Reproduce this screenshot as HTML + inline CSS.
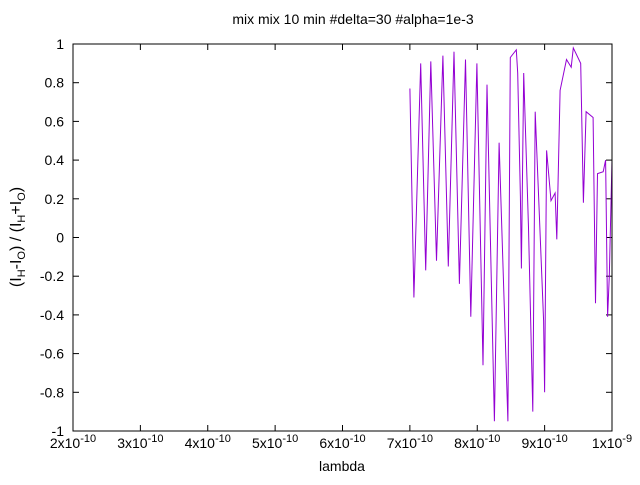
<!DOCTYPE html>
<html><head><meta charset="utf-8"><style>
body{margin:0;background:#fff}
svg text{font-family:"Liberation Sans",sans-serif;font-size:14px;fill:#000}
</style></head><body>
<svg id="chart" width="640" height="480" xmlns="http://www.w3.org/2000/svg">
<text x="353" y="24" text-anchor="middle">mix mix 10 min #delta=30 #alpha=1e-3</text>
<text x="342" y="471" text-anchor="middle">lambda</text>
<text transform="translate(21,237) rotate(-90)" text-anchor="middle" style="font-size:16px">(I<tspan font-size="11" dy="4">H</tspan><tspan dy="-4">-I</tspan><tspan font-size="11" dy="4">O</tspan><tspan dy="-4">) / (I</tspan><tspan font-size="11" dy="4">H</tspan><tspan dy="-4">+I</tspan><tspan font-size="11" dy="4">O</tspan><tspan dy="-4">)</tspan></text>
<g id="axes"></g>
<g id="series"></g>
<rect x="73" y="44" width="539" height="387" fill="none" stroke="#000" stroke-width="1"/>
</svg>
<script>
const xTicks=[2,3,4,5,6,7,8,9,10];
const xTickLabels=["2x10","3x10","4x10","5x10","6x10","7x10","8x10","9x10","1x10"];
const xTickExp=["-10","-10","-10","-10","-10","-10","-10","-10","-9"];
const yTicks=[-1,-0.8,-0.6,-0.4,-0.2,0,0.2,0.4,0.6,0.8,1];
const yTickLabels=["-1","-0.8","-0.6","-0.4","-0.2","0","0.2","0.4","0.6","0.8","1"];
const lambdaE10=[7.0,7.06,7.16,7.235,7.31,7.395,7.49,7.57,7.655,7.735,7.825,7.905,7.995,8.085,8.145,8.255,8.325,8.455,8.49,8.58,8.6,8.64,8.655,8.69,8.76,8.825,8.86,8.985,9.0,9.03,9.095,9.155,9.18,9.23,9.325,9.395,9.425,9.535,9.575,9.615,9.72,9.755,9.785,9.87,9.905,9.935,9.96,10.0];
const ratio=[0.77,-0.31,0.90,-0.17,0.91,-0.12,0.94,-0.15,0.96,-0.24,0.92,-0.41,0.90,-0.66,0.79,-0.95,0.49,-0.95,0.93,0.97,0.85,0.21,-0.16,0.85,0.05,-0.90,0.65,-0.43,-0.80,0.45,0.19,0.23,-0.01,0.76,0.92,0.88,0.98,0.90,0.18,0.65,0.62,-0.34,0.33,0.34,0.40,-0.41,-0.20,0.40];
const X0=73,X1=612,Y0=431,Y1=44;
function sx(v){return X0+(v-2)/8*(X1-X0);}
function sy(v){return Y0-(v+1)/2*(Y0-Y1);}
const NS="http://www.w3.org/2000/svg";
const axes=document.getElementById('axes');
xTicks.forEach((t,i)=>{
  const x=sx(t);
  for(const [a,b] of [[Y0,Y0-6],[Y1,Y1+6]]){
    const l=document.createElementNS(NS,'line');
    l.setAttribute('x1',x);l.setAttribute('x2',x);l.setAttribute('y1',a);l.setAttribute('y2',b);l.setAttribute('stroke','#000');
    
    
    axes.appendChild(l);
  }
  const tx=document.createElementNS(NS,'text');
  tx.setAttribute('x',x);tx.setAttribute('y',Y0+17);tx.setAttribute('text-anchor','middle');
  tx.innerHTML=xTickLabels[i]+'<tspan font-size="11" dy="-6">'+xTickExp[i]+'</tspan>';
  
  
  axes.appendChild(tx);
});
yTicks.forEach((t,i)=>{
  const y=sy(t);
  for(const [a,b] of [[X0,X0+6],[X1,X1-6]]){
    const l=document.createElementNS(NS,'line');
    l.setAttribute('x1',a);l.setAttribute('x2',b);l.setAttribute('y1',y);l.setAttribute('y2',y);l.setAttribute('stroke','#000');
    
    
    axes.appendChild(l);
  }
  const tx=document.createElementNS(NS,'text');
  tx.setAttribute('x',X0-9);tx.setAttribute('y',y+5);tx.setAttribute('text-anchor','end');
  tx.textContent=yTickLabels[i];
  
  
  axes.appendChild(tx);
});
const pts=lambdaE10.map((l,i)=>sx(l).toFixed(1)+','+sy(ratio[i]).toFixed(1)).join(' ');
const pl=document.createElementNS(NS,'polyline');
pl.setAttribute('points',pts);pl.setAttribute('fill','none');pl.setAttribute('stroke','#9400d3');pl.setAttribute('stroke-width','1');


document.getElementById('series').appendChild(pl);
</script>
</body></html>
